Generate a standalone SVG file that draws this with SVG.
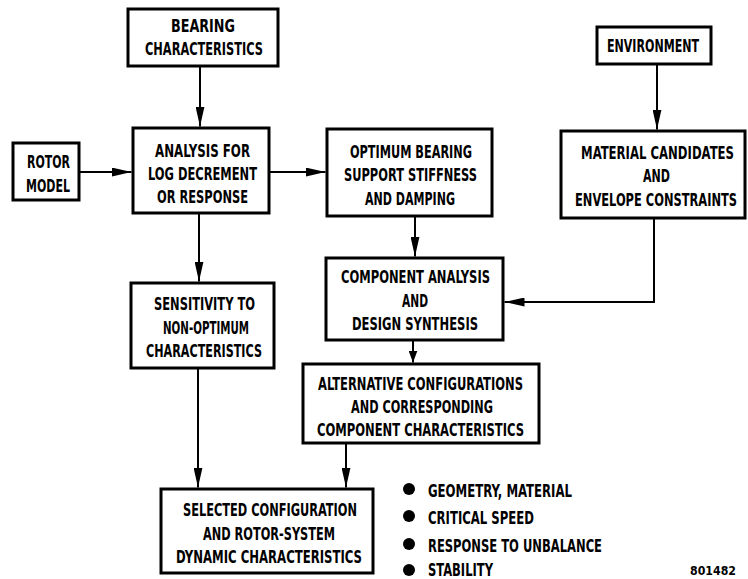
<svg xmlns="http://www.w3.org/2000/svg" width="748" height="579" viewBox="0 0 748 579">
<style>
.box{fill:#fff;stroke:#000;stroke-width:3}
.t{font-family:"Liberation Sans Narrow","DejaVu Sans Condensed","Liberation Sans",Arial,sans-serif;font-weight:bold;font-size:17px;fill:#000}
.c{fill:none;stroke:#000;stroke-width:2}
.bul{fill:#000}
</style>
<defs>
<marker id="ah" markerUnits="userSpaceOnUse" markerWidth="20" markerHeight="9" refX="20" refY="4.5" orient="auto">
<path d="M0,0 L20,4.5 L0,9 z" fill="#000"/>
</marker>
<marker id="ahs" markerUnits="userSpaceOnUse" markerWidth="12" markerHeight="9" refX="12" refY="4.5" orient="auto">
<path d="M0,0 L12,4.5 L0,9 z" fill="#000"/>
</marker>
</defs>
<rect width="748" height="579" fill="#fff"/>
<g id="connectors">
<path class="c" d="M200,66 V126.5" marker-end="url(#ah)"/>
<path class="c" d="M79,172 H131.5" marker-end="url(#ah)"/>
<path class="c" d="M269,172 H325.5" marker-end="url(#ah)"/>
<path class="c" d="M199,213 V281.5" marker-end="url(#ah)"/>
<path class="c" d="M657,64 V129.5" marker-end="url(#ah)"/>
<path class="c" d="M415,216 V256.5" marker-end="url(#ah)"/>
<path class="c" d="M654,218 V302 H504.5" marker-end="url(#ah)"/>
<path class="c" d="M413,340 V362.5" marker-end="url(#ahs)"/>
<path class="c" d="M198,368 V487.5" marker-end="url(#ah)"/>
<path class="c" d="M346,443 V487.5" marker-end="url(#ah)"/>
</g>
<g id="bearing">
<rect class="box" x="128" y="9" width="150" height="57"/>
<text class="t" x="171" y="32" textLength="64" lengthAdjust="spacingAndGlyphs">BEARING</text>
<text class="t" x="145" y="55" textLength="118" lengthAdjust="spacingAndGlyphs">CHARACTERISTICS</text>
</g>
<g id="rotor">
<rect class="box" x="13" y="143" width="66" height="57"/>
<text class="t" x="27" y="168" textLength="43" lengthAdjust="spacingAndGlyphs">ROTOR</text>
<text class="t" x="26" y="192" textLength="44" lengthAdjust="spacingAndGlyphs">MODEL</text>
</g>
<g id="analysis">
<rect class="box" x="133" y="128" width="136" height="85"/>
<text class="t" x="155" y="157" textLength="95" lengthAdjust="spacingAndGlyphs">ANALYSIS FOR</text>
<text class="t" x="148" y="180" textLength="109" lengthAdjust="spacingAndGlyphs">LOG DECREMENT</text>
<text class="t" x="157" y="203" textLength="91" lengthAdjust="spacingAndGlyphs">OR RESPONSE</text>
</g>
<g id="optimum">
<rect class="box" x="327" y="129" width="165" height="87"/>
<text class="t" x="350" y="158" textLength="122" lengthAdjust="spacingAndGlyphs">OPTIMUM BEARING</text>
<text class="t" x="344" y="181" textLength="133" lengthAdjust="spacingAndGlyphs">SUPPORT STIFFNESS</text>
<text class="t" x="365" y="205" textLength="90" lengthAdjust="spacingAndGlyphs">AND DAMPING</text>
</g>
<g id="environment">
<rect class="box" x="597" y="27" width="114" height="37"/>
<text class="t" x="607" y="52" textLength="92" lengthAdjust="spacingAndGlyphs">ENVIRONMENT</text>
</g>
<g id="material">
<rect class="box" x="561" y="131" width="184" height="87"/>
<text class="t" transform="translate(581,159) scale(0.75,1)" x="0" y="0" textLength="204" lengthAdjust="spacingAndGlyphs">MATERIAL CANDIDATES</text>
<text class="t" x="643" y="182" textLength="27" lengthAdjust="spacingAndGlyphs">AND</text>
<text class="t" transform="translate(575,206) scale(0.75,1)" x="0" y="0" textLength="216" lengthAdjust="spacingAndGlyphs">ENVELOPE CONSTRAINTS</text>
</g>
<g id="component">
<rect class="box" x="326" y="258" width="177" height="82"/>
<text class="t" x="341" y="283" textLength="149" lengthAdjust="spacingAndGlyphs">COMPONENT ANALYSIS</text>
<text class="t" x="402" y="307" textLength="26" lengthAdjust="spacingAndGlyphs">AND</text>
<text class="t" x="352" y="330" textLength="126" lengthAdjust="spacingAndGlyphs">DESIGN SYNTHESIS</text>
</g>
<g id="sensitivity">
<rect class="box" x="131" y="283" width="143" height="85"/>
<text class="t" x="154" y="310" textLength="101" lengthAdjust="spacingAndGlyphs">SENSITIVITY TO</text>
<text class="t" x="163" y="334" textLength="86" lengthAdjust="spacingAndGlyphs">NON-OPTIMUM</text>
<text class="t" x="146" y="357" textLength="116" lengthAdjust="spacingAndGlyphs">CHARACTERISTICS</text>
</g>
<g id="alternative">
<rect class="box" x="303" y="364" width="236" height="79"/>
<text class="t" x="318" y="390" textLength="205" lengthAdjust="spacingAndGlyphs">ALTERNATIVE CONFIGURATIONS</text>
<text class="t" x="351" y="413" textLength="142" lengthAdjust="spacingAndGlyphs">AND CORRESPONDING</text>
<text class="t" x="317" y="436" textLength="207" lengthAdjust="spacingAndGlyphs">COMPONENT CHARACTERISTICS</text>
</g>
<g id="selected">
<rect class="box" x="161" y="489" width="212" height="84"/>
<text class="t" x="183" y="516" textLength="174" lengthAdjust="spacingAndGlyphs">SELECTED CONFIGURATION</text>
<text class="t" x="203" y="540" textLength="132" lengthAdjust="spacingAndGlyphs">AND ROTOR-SYSTEM</text>
<text class="t" x="176" y="563" textLength="186" lengthAdjust="spacingAndGlyphs">DYNAMIC CHARACTERISTICS</text>
</g>
<g id="bullets">
<circle class="bul" cx="409" cy="489" r="6"/>
<circle class="bul" cx="409" cy="516" r="6"/>
<circle class="bul" cx="409" cy="544" r="6"/>
<circle class="bul" cx="409" cy="570" r="6"/>
<text class="t" x="428" y="497" textLength="144" lengthAdjust="spacingAndGlyphs">GEOMETRY, MATERIAL</text>
<text class="t" x="428" y="524" textLength="106" lengthAdjust="spacingAndGlyphs">CRITICAL SPEED</text>
<text class="t" x="428" y="552" textLength="174" lengthAdjust="spacingAndGlyphs">RESPONSE TO UNBALANCE</text>
<text class="t" x="428" y="576" textLength="65" lengthAdjust="spacingAndGlyphs">STABILITY</text>
</g>
<text class="t" x="690" y="575" style="font-size:12px" textLength="46" lengthAdjust="spacingAndGlyphs">801482</text>
</svg>
